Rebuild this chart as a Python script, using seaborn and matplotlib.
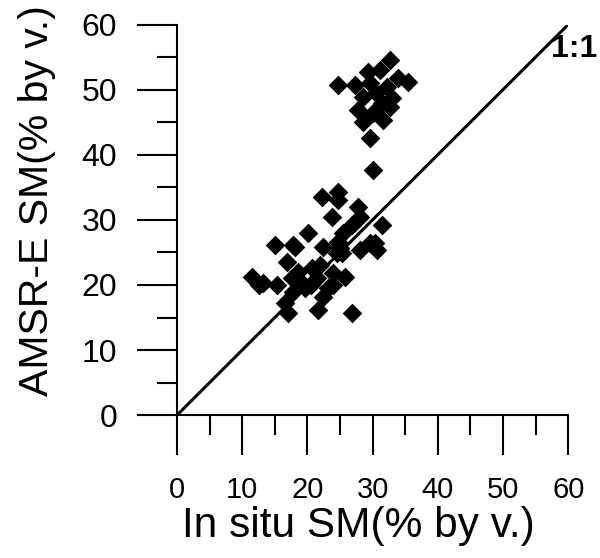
"""
Scatter of AMSR-E vs in situ soil moisture with 1:1 line
"""

import matplotlib
matplotlib.use("Agg")
import matplotlib.pyplot as plt
from matplotlib.ticker import MultipleLocator
import seaborn as sns
import pandas as pd

# In situ SM (% by v.)
in_situ = [
    24.7, 27.3, 29.3, 31.1, 32.7, 33.9, 35.4, 29.6, 32.2, 33.0,
    28.5, 27.8, 30.1, 32.7, 31.6, 28.5, 29.6, 30.1, 30.5, 31.5,
    22.2, 24.7, 24.7, 27.8, 23.8, 28.1, 26.8, 31.4, 20.1, 25.5,
    18.1, 22.4, 24.7, 30.4, 28.1, 24.5, 15.0, 17.8, 25.3, 16.9,
    11.5, 13.2, 15.3, 17.6, 20.7, 21.5, 23.9, 25.8, 23.2, 22.4,
    17.8, 16.6, 17.0, 21.6, 26.8, 19.6, 29.6, 30.7, 25.0, 19.0,
    20.5, 18.5, 24.0, 22.0, 12.5,
]
# AMSR-E SM (% by v.)
amsre = [
    50.7, 50.7, 52.7, 53.0, 54.5, 51.8, 51.2, 51.0, 50.4, 48.7,
    48.8, 46.9, 46.4, 47.3, 45.3, 45.0, 42.5, 37.6, 49.5, 48.0,
    33.5, 34.3, 33.0, 32.0, 30.4, 30.4, 29.2, 29.2, 28.0, 28.0,
    25.8, 25.8, 26.6, 26.4, 25.3, 24.9, 26.1, 26.1, 24.9, 23.5,
    21.2, 20.3, 20.0, 21.0, 22.6, 21.0, 21.8, 21.2, 19.5, 18.1,
    18.9, 17.2, 15.7, 16.1, 15.7, 19.5, 26.4, 25.3, 25.6, 20.5,
    20.0, 22.0, 20.0, 23.0, 20.0,
]
one_to_one = [0, 60]

df = pd.DataFrame({"in_situ": in_situ, "amsre": amsre})

sns.set_style("ticks")
plt.rcParams['font.family'] = ['Liberation Sans', 'DejaVu Sans']
plt.rcParams['text.color'] = 'black'
plt.rcParams['axes.labelcolor'] = 'black'
plt.rcParams['xtick.color'] = 'black'
plt.rcParams['ytick.color'] = 'black'

fig = plt.figure(figsize=(6, 5.58), dpi=100)
ax = fig.add_axes([0.295, 0.256, 0.652, 0.700])

sns.scatterplot(data=df, x="in_situ", y="amsre", marker="D", s=100,
                color="black", edgecolor="black", linewidth=0, ax=ax,
                clip_on=False, zorder=3)
ax.plot(one_to_one, one_to_one, color="black", linewidth=2.2, zorder=2)
ax.text(57.4, 56.2, "1:1", fontsize=23, fontweight="bold", va="center",
        ha="left", family="Liberation Sans")

ax.set_xlim(0, 60)
ax.set_ylim(0, 60)
ax.xaxis.set_major_locator(MultipleLocator(10))
ax.yaxis.set_major_locator(MultipleLocator(10))
ax.xaxis.set_minor_locator(MultipleLocator(5))
ax.yaxis.set_minor_locator(MultipleLocator(5))

sns.despine(ax=ax)
for side in ["left", "bottom"]:
    ax.spines[side].set_linewidth(1.5)
    ax.spines[side].set_color("black")

ax.tick_params(axis="both", which="major", direction="out", length=29,
               width=1.5, color="black")
ax.tick_params(axis="both", which="minor", direction="out", length=14.5,
               width=1.5, color="black")
ax.tick_params(axis="x", which="major", labelsize=21, pad=15)
ax.tick_params(axis="y", which="major", labelsize=23, pad=14)
for lbl in ax.get_xticklabels() + ax.get_yticklabels():
    lbl.set_family("Liberation Sans")

ax.set_xlabel("In situ SM(% by v.)", fontsize=30.5)
ax.set_ylabel("AMSR-E SM(% by v.)", fontsize=29.5)
ax.xaxis.set_label_coords(0.463, -0.232)
ax.yaxis.set_label_coords(-0.31, 0.55)

plt.savefig("out.png", dpi=100)
plt.close()
